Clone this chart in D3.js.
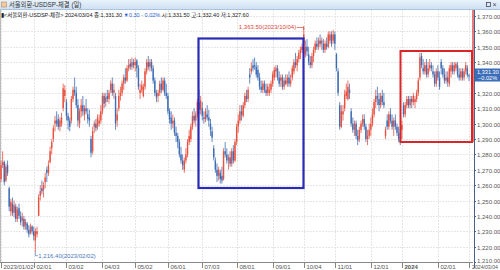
<!DOCTYPE html>
<html>
<head>
<meta charset="utf-8">
<script src="https://cdn.jsdelivr.net/npm/d3@7"></script>
<style>
  html, body { margin: 0; padding: 0; background: #fff; }
  svg { display: block; font-family: "Liberation Sans", "Noto Sans CJK KR", sans-serif; }
</style>
</head>
<body>
<div id="chart"></div>
<script>
// Seoul FX USD/KRW daily candles, 2023/01/02 - 2024/03/04
const firstDay = "2023-01-02", lastDay = "2024-03-04";
const holidays = ["2023-01-23", "2023-01-24", "2023-03-01", "2023-05-01", "2023-05-05", "2023-05-29",
  "2023-06-06", "2023-08-15", "2023-09-28", "2023-09-29", "2023-10-02", "2023-10-03", "2023-10-09",
  "2023-12-25", "2023-12-29", "2024-01-01", "2024-02-09", "2024-02-12", "2024-03-01"];

const opens = [
  1264,1273,1275,1263,1273,1258,1243,1248,1242,1246, 1238,1245,1240,1237,1238,1234,1235,1231,1229,1233,
  1230,1224,1228,1240,1253,1258,1257,1262,1270,1268, 1275,1284,1290,1300,1302,1303,1298,1300,1310,1318,
  1314,1305,1302,1302,1316,1322,1320,1312,1300,1308, 1312,1306,1310,1306,1304,1290,1282,1298,1300,1298,
  1300,1302,1308,1318,1314,1318,1316,1322,1326,1320, 1318,1302,1310,1318,1320,1326,1330,1328,1336,1339,
  1337,1340,1338,1341,1336,1320,1322,1318,1324,1334, 1340,1337,1340,1336,1328,1320,1318,1320,1326,1322,
  1328,1320,1318,1308,1304,1300,1302,1294,1292,1288, 1280,1276,1270,1276,1280,1288,1290,1298,1305,1302,
  1306,1314,1309,1310,1304,1303,1306,1304,1300,1295, 1284,1276,1270,1266,1268,1266,1264,1282,1280,1276,
  1278,1274,1282,1276,1288,1298,1302,1308,1305,1312, 1318,1316,1332,1334,1338,1338,1337,1335,1330,1324,
  1322,1326,1322,1320,1320,1322,1326,1330,1334,1336, 1330,1328,1330,1324,1328,1326,1330,1326,1330,1334,
  1340,1338,1342,1346,1348,1352,1345,1350,1345,1340, 1338,1344,1348,1352,1350,1354,1352,1352,1348,1352,
  1350,1354,1358,1354,1358,1345,1334,1312,1298,1306, 1310,1318,1316,1322,1308,1300,1296,1300,1292,1290,
  1296,1300,1303,1298,1290,1292,1296,1300,1306,1314, 1318,1316,1312,1318,1314,1292,1302,1298,1306,1302,
  1298,1302,1298,1294,1290,1296,1312,1306,1312,1316, 1312,1316,1314,1314,1316,1320,1330,1344,1336,1334,
  1338,1332,1336,1338,1334,1332,1326,1334,1330,1340, 1336,1332,1328,1330,1326,1334,1338,1334,1336,1338,
  1332,1330,1334,1330,1334,1336,1331.5
];
const highs = [
  1276,1282,1276,1274,1276,1259,1251,1252,1250,1248, 1246,1248,1243,1242,1240,1238,1236,1234,1235,1234,
  1233,1232,1233,1254,1260,1263,1262,1268,1272,1276, 1285,1290,1299,1305,1308,1306,1304,1307,1326,1325,
  1316,1307,1304,1318,1324,1330,1324,1316,1310,1316, 1318,1312,1316,1310,1309,1292,1298,1302,1303,1306,
  1306,1312,1320,1320,1320,1322,1322,1328,1330,1326, 1320,1310,1322,1324,1328,1332,1336,1338,1342,1342,
  1343,1342,1343,1342,1338,1326,1328,1326,1336,1342, 1344,1342,1342,1338,1330,1322,1322,1328,1330,1330,
  1330,1326,1320,1310,1308,1306,1304,1298,1294,1290, 1285,1280,1278,1284,1290,1296,1300,1308,1310,1308,
  1316,1322,1318,1314,1308,1310,1312,1309,1303,1298, 1286,1278,1274,1272,1270,1272,1284,1288,1284,1280,
  1282,1284,1286,1290,1300,1306,1312,1312,1314,1320, 1322,1324,1336,1340,1342,1343,1340,1338,1333,1328,
  1328,1328,1326,1326,1326,1328,1334,1337,1338,1338, 1334,1332,1332,1330,1332,1332,1334,1332,1338,1342,
  1346,1344,1348,1350,1352,1363.5,1354,1355,1350,1344, 1346,1350,1354,1356,1356,1358,1356,1355,1354,1356,
  1360,1360,1360,1361,1360,1346,1336,1314,1312,1312, 1322,1326,1328,1326,1310,1304,1302,1302,1296,1298,
  1302,1306,1306,1300,1296,1300,1304,1310,1316,1322, 1324,1320,1320,1322,1320,1298,1306,1308,1310,1306,
  1304,1306,1300,1298,1296,1302,1314,1314,1318,1318, 1318,1318,1320,1318,1322,1330,1346,1346,1342,1340,
  1342,1340,1342,1340,1338,1334,1336,1338,1334,1342, 1338,1336,1334,1334,1338,1340,1340,1340,1340,1340,
  1336,1336,1336,1336,1340,1338,1332.4
];
const lows = [
  1262,1271,1260,1262,1266,1243,1240,1240,1239,1236, 1236,1238,1234,1233,1231,1231,1229,1226,1228,1228,
  1224,1216.4,1226,1240,1250,1254,1252,1258,1262,1266, 1274,1280,1288,1295,1298,1296,1295,1298,1308,1314,
  1302,1296,1295,1300,1314,1318,1310,1298,1297,1304, 1305,1302,1306,1300,1298,1278,1280,1294,1295,1296,
  1298,1300,1306,1310,1311,1314,1313,1320,1318,1316, 1296,1298,1308,1315,1318,1322,1326,1327,1334,1335,
  1335,1336,1334,1330,1322,1316,1320,1317,1322,1332, 1335,1334,1334,1326,1318,1314,1314,1318,1320,1321,
  1318,1316,1306,1300,1296,1297,1292,1288,1284,1278, 1274,1270,1268,1274,1278,1286,1288,1296,1300,1298,
  1304,1306,1306,1302,1300,1301,1302,1298,1292,1288, 1276,1268,1262,1263,1261,1261,1263,1278,1274,1270,
  1272,1272,1274,1275,1286,1294,1300,1302,1304,1310, 1314,1314,1326,1332,1334,1335,1330,1328,1322,1320,
  1320,1320,1318,1318,1318,1320,1324,1328,1330,1328, 1324,1324,1322,1322,1325,1324,1324,1324,1328,1332,
  1336,1334,1340,1342,1346,1350,1343,1344,1338,1336, 1336,1340,1346,1348,1348,1350,1348,1346,1346,1348,
  1349,1352,1350,1352,1348,1334,1318,1296,1297,1302, 1308,1316,1315,1316,1298,1294,1292,1290,1286,1288,
  1294,1298,1296,1288,1286,1290,1292,1298,1304,1310, 1312,1308,1310,1312,1310,1290,1296,1296,1300,1296,
  1292,1296,1292,1288,1286,1290,1304,1304,1310,1310, 1310,1310,1312,1310,1314,1318,1328,1336,1332,1332,
  1330,1330,1334,1334,1330,1324,1324,1328,1322,1332, 1330,1326,1326,1324,1324,1330,1332,1332,1334,1330,
  1328,1328,1328,1328,1332,1330,1327.6
];
const closes = [
  1273,1275,1262,1272,1268,1246,1249,1242,1247,1238, 1244,1240,1236,1239,1233,1236,1231,1228,1233,1230,
  1227,1230,1230,1252,1256,1256,1260,1265,1268,1273, 1282,1288,1297,1302,1300,1298,1302,1304,1323,1322,
  1305,1302,1298,1316,1322,1320,1312,1302,1308,1312, 1308,1310,1308,1303,1302,1281,1295,1300,1297,1304,
  1302,1308,1318,1313,1317,1316,1320,1326,1320,1322, 1300,1306,1318,1320,1326,1330,1328,1336,1338,1337,
  1340,1338,1340,1336,1324,1322,1325,1324,1334,1340, 1337,1340,1336,1328,1320,1317,1320,1326,1322,1328,
  1320,1318,1308,1303,1300,1302,1294,1292,1288,1280, 1276,1273,1276,1280,1288,1292,1298,1305,1302,1306,
  1314,1309,1315,1305,1303,1308,1304,1302,1296,1291, 1278,1270,1266,1270,1264,1263,1282,1280,1276,1278,
  1274,1282,1276,1288,1298,1302,1308,1306,1312,1318, 1316,1322,1330,1336,1336,1337,1332,1330,1324,1322,
  1326,1322,1320,1324,1322,1326,1332,1335,1336,1330, 1326,1330,1324,1328,1326,1330,1326,1328,1336,1340,
  1338,1342,1346,1348,1350,1358,1350,1347,1340,1338, 1344,1348,1352,1350,1354,1352,1354,1348,1352,1350,
  1358,1358,1352,1358,1352,1336,1320,1298,1308,1308, 1319,1321,1324,1320,1300,1296,1300,1292,1289,1296,
  1300,1303,1298,1290,1292,1296,1300,1306,1314,1318, 1316,1312,1318,1314,1312,1296,1298,1306,1302,1298,
  1302,1298,1294,1290,1288,1299,1306,1312,1316,1312, 1316,1314,1318,1316,1320,1328,1343,1338,1334,1338,
  1332,1336,1338,1336,1332,1326,1334,1330,1324,1336, 1332,1328,1330,1327,1336,1338,1334,1338,1339,1332,
  1330,1334,1330,1334,1338,1331.6,1331.3
];

const xTickDates = ["2023-01-02", "2023-02-01", "2023-03-02", "2023-04-03", "2023-05-02", "2023-06-01",
  "2023-07-03", "2023-08-01", "2023-09-01", "2023-10-04", "2023-11-01", "2023-12-01", "2024-01-02",
  "2024-02-01", "2024-03-04"];
const xTickLabels = ["2023/01/02", "02/01", "03/02", "04/03", "05/02", "06/01", "07/03", "08/01",
  "09/01", "10/04", "11/01", "12/01", "2024", "02/01", "2024/03/04"];
const yTicks = [1210, 1220, 1230, 1240, 1250, 1260, 1270, 1280, 1290, 1300, 1310, 1320, 1330, 1340, 1350, 1360, 1370];

// trading days: weekdays minus holidays
const fmt = d3.utcFormat("%Y-%m-%d");
const dates = d3.utcDays(new Date(firstDay), d3.utcDay.offset(new Date(lastDay), 1))
  .filter((d) => d.getUTCDay() !== 0 && d.getUTCDay() !== 6)
  .map(fmt)
  .filter((d) => !holidays.includes(d));

const bars = dates.map((d, i) => ({
  date: d, open: opens[i], high: highs[i], low: lows[i], close: closes[i],
}));

const width = 500, height = 270;
const plotRight = 473, plotTop = 10, plotBottom = 262;
const upColor = "#e8503f", downColor = "#3f6db5";

const svg = d3.select("#chart").append("svg")
  .attr("width", width).attr("height", height);

const x = d3.scalePoint().domain(dates).range([1, 469]);
const y = d3.scaleLinear().domain([1210, 1370]).range([262, 16]);

const last = bars[bars.length - 1];
const prev = bars[bars.length - 2];

// title bar
const grad = svg.append("defs").append("linearGradient")
  .attr("id", "titleGrad").attr("x1", 0).attr("y1", 0).attr("x2", 0).attr("y2", 1);
grad.append("stop").attr("offset", 0).attr("stop-color", "#e9f2fb");
grad.append("stop").attr("offset", 1).attr("stop-color", "#cfe1f3");
svg.append("rect").attr("x", 0).attr("y", 0).attr("width", width).attr("height", 9)
  .attr("fill", "url(#titleGrad)");
svg.append("line").attr("x1", 0).attr("x2", width).attr("y1", 9.5).attr("y2", 9.5)
  .attr("stroke", "#aac4e0");
svg.append("rect").attr("x", 1.5).attr("y", 2).attr("width", 5).attr("height", 5)
  .attr("fill", "#f2c9a0").attr("stroke", "#b88a60").attr("stroke-width", 0.6);
svg.append("text").attr("x", 9).attr("y", 7.3).attr("font-size", 6.3).attr("fill", "#333")
  .text("서울외환-USDSP-체결 (일)");
svg.append("rect").attr("x", 486.5).attr("y", 2.5).attr("width", 4).attr("height", 4)
  .attr("fill", "none").attr("stroke", "#445").attr("stroke-width", 0.8);
svg.append("text").attr("x", 492.5).attr("y", 7.2).attr("font-size", 7).attr("fill", "#445").text("×");

// gridlines
svg.append("g").selectAll("line").data(yTicks).join("line")
  .attr("x1", 1).attr("x2", plotRight)
  .attr("y1", (d) => Math.round(y(d)) + 0.5).attr("y2", (d) => Math.round(y(d)) + 0.5)
  .attr("stroke", "#e6e6e6").attr("stroke-dasharray", "2,1");
svg.append("g").selectAll("line").data(xTickDates).join("line")
  .attr("x1", (d) => Math.round(x(d)) + 0.5).attr("x2", (d) => Math.round(x(d)) + 0.5)
  .attr("y1", plotTop).attr("y2", plotBottom)
  .attr("stroke", "#e6e6e6").attr("stroke-dasharray", "2,1");

// left border
svg.append("line").attr("x1", 0.5).attr("x2", 0.5).attr("y1", plotTop).attr("y2", plotBottom)
  .attr("stroke", "#bbb");

// info line
const info = svg.append("text").attr("x", 1).attr("y", 17).attr("font-size", 5.5).attr("fill", "#222");
info.append("tspan").text("▮<서울외환-USDSP-체결> 2024/03/04 종:1,331.30 ");
info.append("tspan").attr("fill", "#2a5fd6").text("▼0.30 - 0.02%");
info.append("tspan").text(" 시:1,331.50 고:1,332.40 저:1,327.60");

// candles
const candles = svg.append("g").selectAll("g").data(bars).join("g");
candles.append("line")
  .attr("x1", (d) => x(d.date)).attr("x2", (d) => x(d.date))
  .attr("y1", (d) => y(d.high)).attr("y2", (d) => y(d.low))
  .attr("stroke", (d) => (d.close >= d.open ? upColor : downColor))
  .attr("stroke-width", 0.8);
candles.append("rect")
  .attr("x", (d) => x(d.date) - 0.7)
  .attr("width", 1.4)
  .attr("y", (d) => y(Math.max(d.open, d.close)))
  .attr("height", (d) => Math.max(1, Math.abs(y(d.open) - y(d.close))))
  .attr("fill", (d) => (d.close >= d.open ? upColor : downColor));

// x axis
const xAxis = svg.append("g").attr("transform", `translate(0,${plotBottom})`);
xAxis.append("line").attr("x1", 0).attr("x2", plotRight).attr("y1", 0.5).attr("y2", 0.5)
  .attr("stroke", "#888");
const xt = xAxis.selectAll("g").data(xTickDates).join("g")
  .attr("transform", (d) => `translate(${Math.round(x(d)) + 0.5},0)`);
xt.append("line").attr("y1", 0).attr("y2", 6).attr("stroke", "#888");
xt.append("text")
  .attr("x", (d, i) => (i === xTickDates.length - 1 ? 2.5 : 2))
  .attr("y", 7.3)
  .attr("font-size", (d, i) => (i === xTickDates.length - 1 ? 5.2 : 6))
  .attr("fill", "#555")
  .attr("font-weight", (d, i) => (xTickLabels[i] === "2024" ? "bold" : null))
  .text((d, i) => xTickLabels[i]);

// y axis (right); the label under the price badge is hidden as in the original
const yAxis = svg.append("g").attr("transform", `translate(${plotRight + 1},0)`);
yAxis.append("line").attr("x1", 0.5).attr("x2", 0.5).attr("y1", plotTop).attr("y2", plotBottom + 6)
  .attr("stroke", "#4a5f8a");
const yt = yAxis.selectAll("g").data(yTicks).join("g")
  .attr("transform", (d) => `translate(0,${Math.round(y(d)) + 0.5})`);
yt.append("line").attr("x1", 0).attr("x2", 2).attr("stroke", "#4a5f8a");
yt.filter((d) => Math.abs(y(d) - y(last.close)) > 8)
  .append("text").attr("x", 3)
  .attr("dy", (d) => (d === yTicks[0] ? "0.1em" : "0.35em"))
  .attr("font-size", 6)
  .attr("fill", "#555").text((d) => d3.format(",.2f")(d));

// highlight boxes
svg.append("rect").attr("x", 198.5).attr("y", 38.5).attr("width", 105).attr("height", 149.5)
  .attr("fill", "none").attr("stroke", "#2a2ab8").attr("stroke-width", 2.2);
svg.append("rect").attr("x", 400.5).attr("y", 51).attr("width", 71.5).attr("height", 91)
  .attr("fill", "none").attr("stroke", "#d8262b").attr("stroke-width", 2);
svg.append("line").attr("x1", 473).attr("x2", 473).attr("y1", 10).attr("y2", 142)
  .attr("stroke", "#d8262b").attr("stroke-width", 1.2);

// max / min annotations
const hi = bars[d3.maxIndex(bars, (d) => d.high)];
const lo = bars[d3.minIndex(bars, (d) => d.low)];
svg.append("path")
  .attr("d", `M${x(hi.date) - 7},${y(hi.high) + 1.5}H${x(hi.date)}V${y(hi.high) + 4}`)
  .attr("fill", "none").attr("stroke", "#e0453a").attr("stroke-width", 0.7);
svg.append("text").attr("x", x(hi.date) - 7.5).attr("y", y(hi.high) + 3.5)
  .attr("text-anchor", "end").attr("font-size", 6).attr("fill", "#e0453a")
  .text(`${d3.format(",.2f")(hi.high)}(${hi.date.replace(/-/g, "/")})`);
svg.append("path")
  .attr("d", `M${x(lo.date)},${y(lo.low)}V${y(lo.low) + 3.5}H${x(lo.date) + 2.5}`)
  .attr("fill", "none").attr("stroke", "#4a78c0").attr("stroke-width", 0.7);
svg.append("text").attr("x", x(lo.date) + 3).attr("y", y(lo.low) + 5.5)
  .attr("font-size", 6).attr("fill", "#4a78c0")
  .text(`${d3.format(",.2f")(lo.low)}(${lo.date.replace(/-/g, "/")})`);

// current price badge
const by = y(last.close);
svg.append("rect").attr("x", 475).attr("y", by - 7).attr("width", 25).attr("height", 13)
  .attr("fill", "#3c6db8");
svg.append("text").attr("x", 477).attr("y", by - 1.2).attr("font-size", 5.6).attr("fill", "#fff")
  .text(d3.format(",.2f")(last.close));
svg.append("text").attr("x", 478).attr("y", by + 4.6).attr("font-size", 5.6).attr("fill", "#fff")
  .text(d3.format(".2f")((last.close - prev.close) / prev.close * 100) + "%");
</script>
</body>
</html>
